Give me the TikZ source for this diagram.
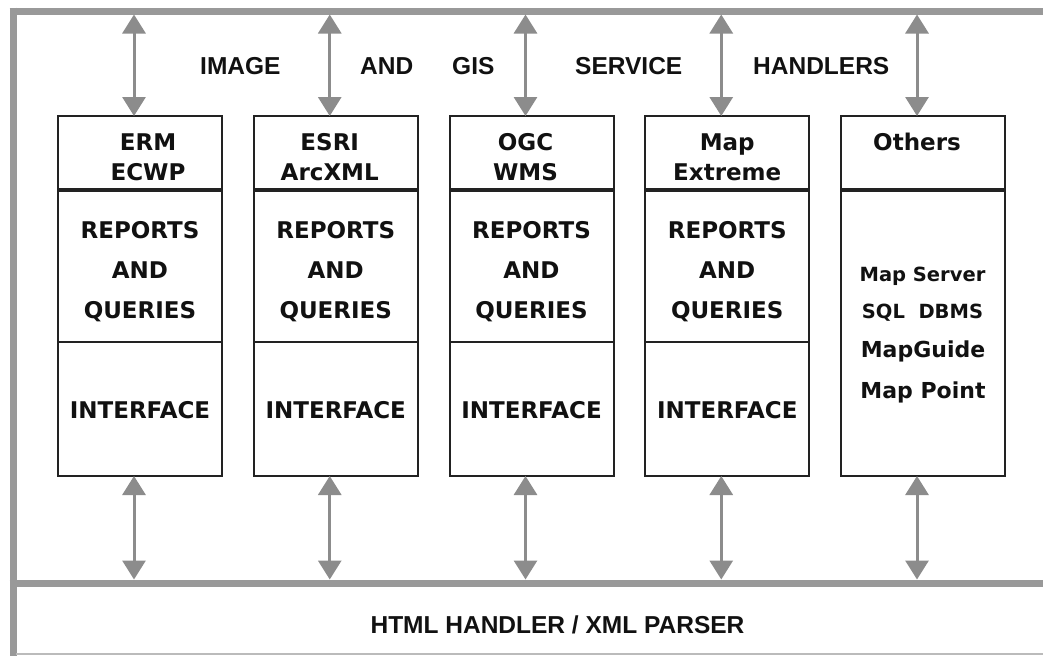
\documentclass[tikz,border=0pt]{standalone}
\usepackage{fontspec}
\setmainfont{Liberation Sans}
\newfontfamily\vfont{DejaVu Sans}
\usetikzlibrary{arrows.meta}
\definecolor{bar}{HTML}{999999}
\definecolor{thinbar}{HTML}{BBBBBB}
\definecolor{arr}{HTML}{8C8C8C}
\definecolor{ink}{HTML}{111111}
\definecolor{boxline}{HTML}{222222}
\begin{document}
\begin{tikzpicture}[x=1pt,y=-1pt,
  sect/.style={draw=boxline,line width=2pt,inner sep=0pt,outer sep=0pt,minimum width=164pt,anchor=north west},
  hlab/.style={font=\fontsize{24.5}{24.5}\selectfont\bfseries,text=ink,anchor=base west,inner sep=0pt},
  blab/.style={font=\vfont\fontsize{23}{23}\selectfont\bfseries,text=ink,anchor=base,inner sep=0pt},
  slab/.style={font=\vfont\fontsize{19.5}{19.5}\selectfont\bfseries,text=ink,anchor=base,inner sep=0pt},
  mlab/.style={font=\vfont\fontsize{22}{22}\selectfont\bfseries,text=ink,anchor=base,inner sep=0pt},
  biarrow/.style={arr,line width=3pt,{Triangle[width=23pt,length=19pt]}-{Triangle[width=23pt,length=19pt]}},
  hbar/.style={bar,line width=7pt},
]
\fill[white] (0,0) rectangle (1043,656);
\useasboundingbox (0,0) rectangle (1043,656);

% frame bars
\draw[hbar] (9.5,11) -- (1043,11);
\draw[hbar] (13,7.5) -- (13,656);
\draw[hbar] (9.5,583) -- (1043,583);
\draw[thinbar,line width=2pt] (16,654) -- (1043,654);

% top labels
\node[hlab] (l1) at (200,74) {IMAGE};
\node[hlab] (l2) at (360,74) {AND};
\node[hlab] (l3) at (452,74) {GIS};
\node[hlab] (l4) at (575,74) {SERVICE};
\node[hlab] (l5) at (753,74) {HANDLERS};

% boxes 1-4
\foreach \i/\x/\dx/\la/\lb in {1/58/8/ERM/ECWP, 2/253.75/-6/ESRI/ArcXML, 3/449.5/-6/OGC/WMS, 4/645.25/0/Map/Extreme}{
  \node[sect,minimum height=74pt] (h\i) at (\x,116) {};
  \node[sect,minimum height=152pt] (m\i) at (\x,190) {};
  \node[sect,minimum height=134pt] (b\i) at (\x,342) {};
  \draw[boxline,line width=3.5pt] (h\i.south west) -- (h\i.south east);
  \node[blab] (ha\i) at (\x+82+\dx,150) {\la};
  \node[blab] (hb\i) at (\x+82+\dx,180) {\lb};
  \node[blab] (rp\i) at (\x+82,238) {REPORTS};
  \node[blab] (an\i) at (\x+82,278) {AND};
  \node[blab] (qu\i) at (\x+82,318) {QUERIES};
  \node[blab] (if\i) at (\x+82,418) {INTERFACE};
}

% box 5
\node[sect,minimum height=74pt] (h5) at (841,116) {};
\node[sect,minimum height=286pt,alias=b5] (m5) at (841,190) {};
\draw[boxline,line width=3.5pt] (h5.south west) -- (h5.south east);
\node[blab] (ha5) at (917,150) {Others};
\node[slab] (o1) at (922.5,281) {Map Server};
\node[slab] (o2) at (922.5,318) {SQL~~DBMS};
\node[mlab] (o3) at (923,357) {MapGuide};
\node[mlab] (o4) at (923,398) {Map Point};

% arrows
\foreach \i/\x in {1/58,2/253.75,3/449.5,4/645.25,5/841}{
  \coordinate (tp\i) at (\x+76,14.5);
  \coordinate (bp\i) at (\x+76,579.5);
  \draw[biarrow] (tp\i) -- (h\i.north -| tp\i);
  \draw[biarrow] (b\i.south -| bp\i) -- (bp\i);
}

% bottom label
\node[hlab,anchor=base] (parser) at (557.5,633) {HTML HANDLER / XML PARSER};
\end{tikzpicture}
\end{document}
